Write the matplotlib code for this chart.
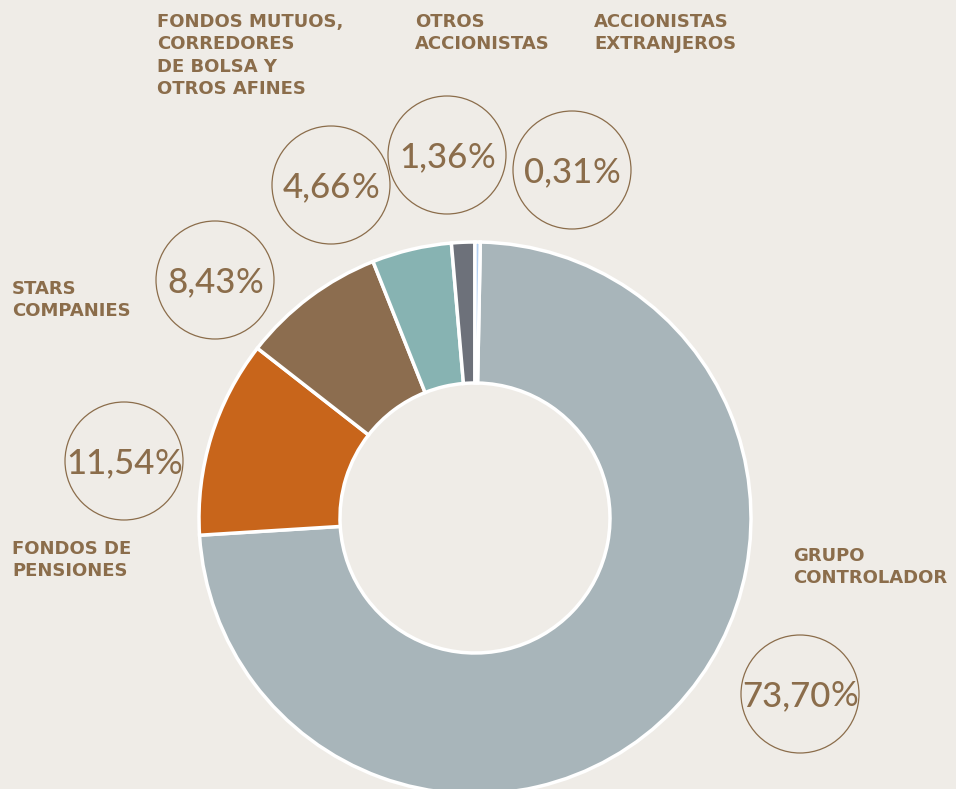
import matplotlib.pyplot as plt
from matplotlib.patches import Circle

W, H = 956, 789
BG = '#EFECE7'
BROWN_TXT = '#8B6D4B'

# data
groups = ['GRUPO\nCONTROLADOR', 'FONDOS DE\nPENSIONES', 'STARS\nCOMPANIES',
          'FONDOS MUTUOS,\nCORREDORES\nDE BOLSA Y\nOTROS AFINES',
          'OTROS\nACCIONISTAS', 'ACCIONISTAS\nEXTRANJEROS']
shares = [73.70, 11.54, 8.43, 4.66, 1.36, 0.31]
colors = ['#A8B5BA', '#C8651B', '#8C6D4F', '#87B3B2', '#6D717A', '#B3CFF0']

# layout (pixels from top-left)
bubble_xy = [(800, 694), (124, 461), (215, 280), (331, 185), (447, 155), (572, 170)]
label_xy = [(793, 550), (12, 543), (12, 283), (157, 16), (415, 16), (594, 16)]
bubble_r = 59

fig = plt.figure(figsize=(W / 100, H / 100), dpi=100, facecolor=BG)
ax = fig.add_axes([0, 0, 1, 1])
ax.set_facecolor(BG)

ax.pie(shares, colors=colors, startangle=88.9, counterclock=False,
       center=(475, H - 518), radius=276,
       wedgeprops=dict(width=141, edgecolor='white', linewidth=2.5))

nums = []
for v, (bx, by) in zip(shares, bubble_xy):
    ax.add_patch(Circle((bx, H - by), bubble_r, fill=False,
                        edgecolor=BROWN_TXT, linewidth=0.9))
    txt = f'{v:.2f}'.replace('.', ',')
    t = ax.text(bx, H - by - 12.5, txt, ha='center', va='baseline',
                fontsize=25, family='Lato', fontweight='medium', color=BROWN_TXT)
    p = ax.annotate('%', xy=(1, 0), xycoords=t, ha='left', va='bottom',
                    fontsize=25, family='Lato', fontweight='normal', color=BROWN_TXT)
    nums.append((t, p, bx))

for lab, (lx, ly) in zip(groups, label_xy):
    ax.text(lx, H - ly + 3, lab, ha='left', va='top', fontsize=13,
            fontweight='bold', family='DejaVu Sans', color=BROWN_TXT,
            linespacing=1.32)

ax.set_xlim(0, W)
ax.set_ylim(0, H)
ax.set_aspect('equal')
ax.axis('off')

# center number + % pair inside its bubble
fig.canvas.draw()
for t, p, bx in nums:
    wp = p.get_window_extent().width
    t.set_x(bx - wp / 2)

fig.savefig('out.png', dpi=100, facecolor=BG)
